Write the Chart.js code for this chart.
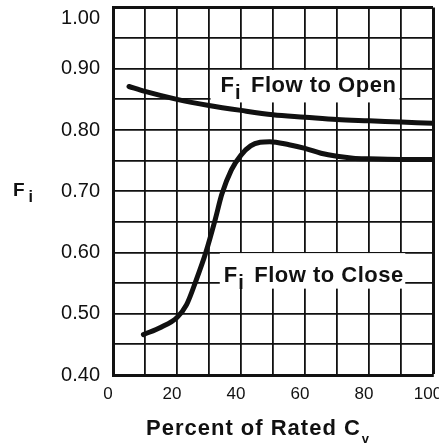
<!DOCTYPE html>
<html><head><meta charset="utf-8">
<script src="https://cdn.jsdelivr.net/npm/chart.js@4.4.0/dist/chart.umd.min.js"></script>
<style>html,body{margin:0;padding:0;background:#fff;}#wrap{position:relative;width:439px;height:445px;}</style>
</head><body><div id="wrap"><canvas id="c" width="439" height="445"></canvas></div>
<script>
// Percent of rated Cv (x) and Fi values
const openX  = [5, 10, 20, 30, 40, 50, 60, 70, 80, 90, 100];
const openY  = [0.871, 0.863, 0.850, 0.840, 0.832, 0.825, 0.821, 0.817, 0.815, 0.813, 0.811];
const closeX = [9.5, 15, 20, 23, 26, 29, 32, 34, 37, 40, 43, 46, 49, 55, 60, 65, 70, 75, 80, 90, 100];
const closeY = [0.466, 0.478, 0.494, 0.515, 0.555, 0.600, 0.655, 0.695, 0.735, 0.759, 0.774, 0.780, 0.781, 0.776, 0.770, 0.762, 0.757, 0.754, 0.753, 0.752, 0.752];
const xLabelValues = [0, 20, 40, 60, 80, 100];
const yLabelValues = [0.40, 0.50, 0.60, 0.70, 0.80, 0.90];
const yTopLabel = 1.00;
const curveNames = ['Flow to Open', 'Flow to Close'];
const yTitle = ['F', 'i'];
const xTitle = ['Percent of Rated C', 'v'];

const FONT = '"Liberation Sans", Arial, Helvetica, sans-serif';

const pts = (xs, ys) => xs.map((x, i) => ({x: x, y: ys[i]}));

const annot = {
  id: 'annot',
  beforeDatasetsDraw(chart) {
    const ctx = chart.ctx, xs = chart.scales.x, ys = chart.scales.y;
    const boxes = [
      {name: curveNames[0], x0: 30, x1: 90, y0: 0.898, y1: 0.845, tx: 33.6, ty: 0.862},
      {name: curveNames[1], x0: 32.9, x1: 91.8, y0: 0.599, y1: 0.541, tx: 34.6, ty: 0.552}
    ];
    ctx.save();
    boxes.forEach(b => {
      const L = xs.getPixelForValue(b.x0) + 1.5, R = xs.getPixelForValue(b.x1) - 1.5;
      const T = ys.getPixelForValue(b.y0), B = ys.getPixelForValue(b.y1);
      ctx.fillStyle = '#fff';
      ctx.fillRect(L, T, R - L, B - T);
      const x = xs.getPixelForValue(b.tx), y = ys.getPixelForValue(b.ty);
      ctx.fillStyle = '#111';
      ctx.textBaseline = 'alphabetic';
      ctx.textAlign = 'left';
      ctx.font = 'bold 22px ' + FONT;
      ctx.fillText('F', x, y);
      ctx.font = 'bold 20px ' + FONT;
      ctx.fillText('i', x + 14.5, y + 7);
      ctx.font = 'bold 22px ' + FONT;
      ctx.letterSpacing = '0.5px';
      ctx.fillText(b.name, x + 30.5, y);
      ctx.letterSpacing = '0px';
    });
    ctx.restore();
  },
  afterDraw(chart) {
    const ctx = chart.ctx, ys = chart.scales.y;
    ctx.save();
    ctx.fillStyle = '#111';
    // top y tick label sits just below the top frame line
    ctx.font = '20px ' + FONT;
    ctx.textAlign = 'right';
    ctx.textBaseline = 'middle';
    ctx.fillText(yTopLabel.toFixed(2), ys.right - 13, ys.getPixelForValue(yTopLabel) + 11);
    ctx.textBaseline = 'alphabetic';
    ctx.textAlign = 'left';
    ctx.font = 'bold 19px ' + FONT;
    ctx.fillText(yTitle[0], 13, 196);
    ctx.font = 'bold 16px ' + FONT;
    ctx.fillText(yTitle[1], 28.5, 201.5);
    ctx.font = 'bold 22px ' + FONT;
    ctx.letterSpacing = '1px';
    ctx.fillText(xTitle[0], 146, 434.5);
    const w = ctx.measureText(xTitle[0]).width;
    ctx.letterSpacing = '0px';
    ctx.font = 'bold 13px ' + FONT;
    ctx.fillText(xTitle[1], 146 + w + 1, 443);
    ctx.restore();
  }
};

function noPad(s) { s.paddingLeft = 0; s.paddingRight = 0; s.paddingTop = 0; s.paddingBottom = 0; }

new Chart(document.getElementById('c'), {
  type: 'line',
  data: {
    datasets: [
      {label: curveNames[0], data: pts(openX, openY), borderColor: '#111', borderWidth: 5, pointRadius: 0, cubicInterpolationMode: 'monotone', fill: false, borderCapStyle: 'round'},
      {label: curveNames[1], data: pts(closeX, closeY), borderColor: '#111', borderWidth: 5, pointRadius: 0, cubicInterpolationMode: 'monotone', fill: false, borderCapStyle: 'round'}
    ]
  },
  options: {
    responsive: false,
    animation: false,
    events: [],
    layout: {padding: {top: 7.5, right: 6, left: 0, bottom: 0}},
    plugins: {legend: {display: false}, tooltip: {enabled: false}},
    scales: {
      x: {
        type: 'linear', min: 0, max: 100,
        afterFit(s) { s.height = 70; noPad(s); },
        border: {display: true, color: '#111', width: 3},
        grid: {color: '#111', drawTicks: false, lineWidth: c => (c.tick && c.tick.value === 100) ? 3 : 1.8},
        ticks: {
          stepSize: 10, padding: 9, labelOffset: -5, maxRotation: 0, autoSkip: false,
          color: '#111', font: {family: FONT, size: 17},
          callback: v => xLabelValues.includes(v) ? String(v) : ''
        }
      },
      y: {
        type: 'linear', min: 0.40, max: 1.00,
        afterFit(s) { s.width = 113; noPad(s); },
        border: {display: true, color: '#111', width: 3},
        grid: {color: '#111', drawTicks: false, lineWidth: c => (c.tick && Math.abs(c.tick.value - 1) < 1e-6) ? 3 : 1.8},
        ticks: {
          stepSize: 0.05, padding: 13, autoSkip: false,
          color: '#111', font: {family: FONT, size: 20},
          callback: v => yLabelValues.some(t => Math.abs(t - v) < 1e-6) ? v.toFixed(2) : ''
        }
      }
    }
  },
  plugins: [annot]
});
</script></body></html>
